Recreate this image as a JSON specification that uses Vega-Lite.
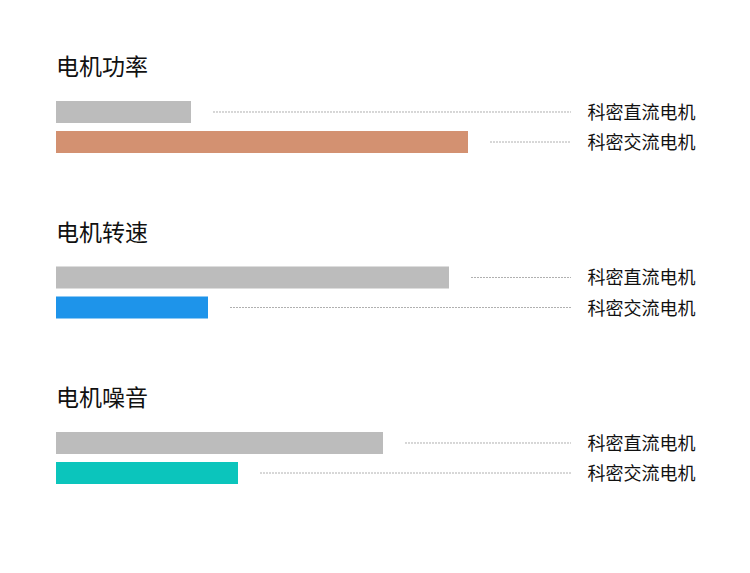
{
  "$schema": "https://vega.github.io/schema/vega-lite/v6.json",
  "background": "white",
  "padding": {"left": 56, "top": 57, "right": 5, "bottom": 5},
  "config": {"view": {"stroke": null}, "font": "Noto Sans CJK SC"},
  "data": {
    "values": [
      {"group": "电机功率", "motor": "科密直流电机", "value": 135},
      {"group": "电机功率", "motor": "科密交流电机", "value": 412},
      {"group": "电机转速", "motor": "科密直流电机", "value": 393},
      {"group": "电机转速", "motor": "科密交流电机", "value": 152},
      {"group": "电机噪音", "motor": "科密直流电机", "value": 327},
      {"group": "电机噪音", "motor": "科密交流电机", "value": 182}
    ]
  },
  "spacing": {"row": 69.5},
  "facet": {
    "row": {
      "field": "group",
      "sort": ["电机功率", "电机转速", "电机噪音"],
      "title": null,
      "header": {
        "labelOrient": "top",
        "labelAnchor": "start",
        "labelAngle": 0,
        "labelFontSize": 23,
        "labelColor": "#111",
        "labelPadding": -2,
        "labelFont": "Noto Sans CJK SC"
      }
    }
  },
  "spec": {
    "width": 515,
    "height": 52,
    "encoding": {
      "y": {
        "field": "motor",
        "type": "nominal",
        "sort": ["科密直流电机", "科密交流电机"],
        "scale": {"paddingInner": 0.2667, "paddingOuter": 0},
        "axis": {
          "orient": "right",
          "title": null,
          "domain": false,
          "ticks": false,
          "labelPadding": 15,
          "labelOffset": 2,
          "labelFontSize": 18,
          "labelColor": "#111"
        }
      }
    },
    "layer": [
      {
        "mark": {"type": "rule", "stroke": "#b0b0b0", "strokeDash": [2, 1], "strokeWidth": 1, "xOffset": 22},
        "encoding": {
          "x": {"field": "value", "type": "quantitative", "scale": {"domain": [0, 515]}, "axis": null},
          "x2": {"datum": 515}
        }
      },
      {
        "mark": {"type": "bar"},
        "encoding": {
          "x": {"field": "value", "type": "quantitative", "scale": {"domain": [0, 515]}, "axis": null},
          "color": {
            "condition": {"test": "datum.motor === '科密直流电机'", "value": "#bcbcbc"},
            "field": "group",
            "type": "nominal",
            "scale": {"domain": ["电机功率", "电机转速", "电机噪音"], "range": ["#d39171", "#1e94ea", "#0bc5bc"]},
            "legend": null
          }
        }
      }
    ]
  }
}
